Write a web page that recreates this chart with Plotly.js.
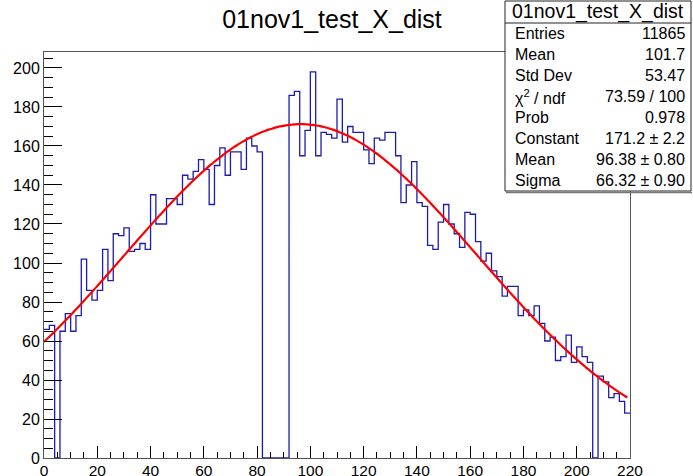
<!DOCTYPE html>
<html>
<head>
<meta charset="utf-8">
<script src="https://cdn.plot.ly/plotly-3.0.1.min.js"></script>
<style>
html,body{margin:0;padding:0;background:#ffffff;}
#chart{width:693px;height:476px;}
</style>
</head>
<body>
<div id="chart"></div>
<script>
// ---- data ----
const histTitle = "01nov1_test_X_dist";
const binLow = 0;
const binWidth = 2;
const binCounts = [
  66, 68, 0, 65, 74, 65, 73, 102, 86, 81,
  86, 107, 91, 115, 114, 118, 106, 107, 110, 107,
  135, 120, 120, 133, 133, 130, 145, 143, 147, 153,
  148, 130, 150, 159, 145, 157, 157, 148, 164, 160,
  157, 0, 0, 0, 0, 0, 186, 188, 155, 168,
  198, 155, 167, 166, 164, 184, 162, 170, 167, 167,
  158, 151, 164, 163, 167, 167, 155, 131, 140, 152,
  131, 129, 109, 107, 121, 130, 120, 115, 108, 126,
  125, 111, 101, 105, 96, 93, 83, 88, 88, 73,
  76, 73, 78, 69, 60, 62, 50, 52, 63, 49,
  57, 52, 49, 0, 42, 39, 31, 33, 29, 23
];
// Gaussian fit parameters shown in the stats box
const fitConstant = 171.2;
const fitMean = 96.38;
const fitSigma = 66.32;
const fitRange = [0, 219];

const xTickVals = [0, 20, 40, 60, 80, 100, 120, 140, 160, 180, 200, 220];
const yTickVals = [0, 20, 40, 60, 80, 100, 120, 140, 160, 180, 200];

const statLabels = ["Entries", "Mean", "Std Dev", "\u03c7<sup>2</sup> / ndf", "Prob", "Constant", "Mean", "Sigma"];
const statValues = ["11865", "101.7", "53.47", "73.59 / 100", "0.978", "171.2 \u00b1 2.2", "96.38 \u00b1 0.80", "66.32 \u00b1 0.90"];

// ---- build traces ----
const stepX = [], stepY = [];
binCounts.forEach((c, i) => { stepX.push(binLow + i * binWidth); stepY.push(c); });
stepX.push(binLow + binCounts.length * binWidth);
stepY.push(binCounts[binCounts.length - 1]);

const fitX = [], fitY = [];
const nPts = 200;
for (let k = 0; k <= nPts; k++) {
  const x = fitRange[0] + (fitRange[1] - fitRange[0]) * k / nPts;
  fitX.push(x);
  fitY.push(fitConstant * Math.exp(-0.5 * Math.pow((x - fitMean) / fitSigma, 2)));
}

const histTrace = {
  x: stepX, y: stepY, type: 'scatter', mode: 'lines',
  line: {shape: 'hv', color: '#1c1cb0', width: 1.3},
  hoverinfo: 'skip', showlegend: false
};
const fitTrace = {
  x: fitX, y: fitY, type: 'scatter', mode: 'lines',
  line: {color: '#ff0000', width: 2.2, shape: 'spline'},
  hoverinfo: 'skip', showlegend: false
};

// ---- layout ----
const W = 693, H = 476;
const M = {l: 44, r: 63, t: 52, b: 18};
const pw = W - M.l - M.r, ph = H - M.t - M.b;
const px2x = p => (p - M.l) / pw;
const py2y = p => (H - M.b - p) / ph;
const FONT = 'Liberation Sans, Arial, Helvetica, sans-serif';

const box = {x0: 505, x1: 691, y0: 1, y1: 191, head: 23};
const shapes = [
  {type: 'rect', xref: 'paper', yref: 'paper', layer: 'above',
   x0: px2x(box.x0), x1: px2x(box.x1), y0: py2y(box.y1), y1: py2y(box.y0),
   fillcolor: '#ffffff', line: {color: '#222', width: 1}},
  {type: 'line', xref: 'paper', yref: 'paper', layer: 'above',
   x0: px2x(box.x0), x1: px2x(box.x1), y0: py2y(box.head), y1: py2y(box.head),
   line: {color: '#222', width: 1}},
  {type: 'line', xref: 'paper', yref: 'paper', layer: 'above',
   x0: px2x(box.x0 + 1), x1: px2x(box.x1 + 1), y0: py2y(box.y1 + 1.5), y1: py2y(box.y1 + 1.5),
   line: {color: '#777', width: 1.5}}
];

const annotations = [
  {text: histTitle, xref: 'paper', yref: 'paper', x: px2x((box.x0 + box.x1) / 2), y: py2y(12),
   xanchor: 'center', yanchor: 'middle', showarrow: false,
   font: {family: FONT, size: 19.5, color: '#000'}}
];
const rowTop = box.head, rowH = (box.y1 - box.head) / statLabels.length;
statLabels.forEach((lab, i) => {
  const yc = rowTop + rowH * (i + 0.5);
  annotations.push({text: lab, xref: 'paper', yref: 'paper', x: px2x(box.x0 + 8), y: py2y(yc),
    xanchor: 'left', yanchor: 'middle', showarrow: false,
    font: {family: FONT, size: 16, color: '#000'}});
  annotations.push({text: statValues[i], xref: 'paper', yref: 'paper', x: px2x(box.x1 - 4), y: py2y(yc),
    xanchor: 'right', yanchor: 'middle', showarrow: false,
    font: {family: FONT, size: 16, color: '#000'}});
});

const layout = {
  width: W, height: H,
  margin: M,
  paper_bgcolor: '#ffffff', plot_bgcolor: '#ffffff',
  showlegend: false,
  title: {text: histTitle, x: 332 / W, xanchor: 'center', xref: 'container',
          y: 1 - 19 / H, yanchor: 'middle', yref: 'container',
          font: {family: FONT, size: 25, color: '#000'}},
  xaxis: {
    range: [binLow, binLow + binCounts.length * binWidth],
    tickmode: 'array', tickvals: xTickVals, ticktext: xTickVals.map(String),
    ticks: 'inside', ticklen: 12, tickwidth: 1, tickcolor: '#000',
    minor: {dtick: 5, tick0: 0, ticks: 'inside', ticklen: 6, tickwidth: 1, tickcolor: '#000', showgrid: false},
    showgrid: false, zeroline: false,
    showline: true, mirror: true, linecolor: '#555', linewidth: 1,
    ticklabelstandoff: -2,
    tickfont: {family: FONT, size: 15.5, color: '#000'}
  },
  yaxis: {
    range: [0, 208.2],
    tickmode: 'array', tickvals: yTickVals, ticktext: yTickVals.map(String),
    ticks: 'inside', ticklen: 18, tickwidth: 1, tickcolor: '#000',
    minor: {dtick: 5, tick0: 0, ticks: 'inside', ticklen: 9, tickwidth: 1, tickcolor: '#000', showgrid: false},
    showgrid: false, zeroline: false,
    showline: true, mirror: true, linecolor: '#555', linewidth: 1,
    tickfont: {family: FONT, size: 16, color: '#000'}
  },
  shapes: shapes,
  annotations: annotations
};

Plotly.newPlot('chart', [histTrace, fitTrace], layout, {staticPlot: true, displayModeBar: false});
</script>
</body>
</html>
